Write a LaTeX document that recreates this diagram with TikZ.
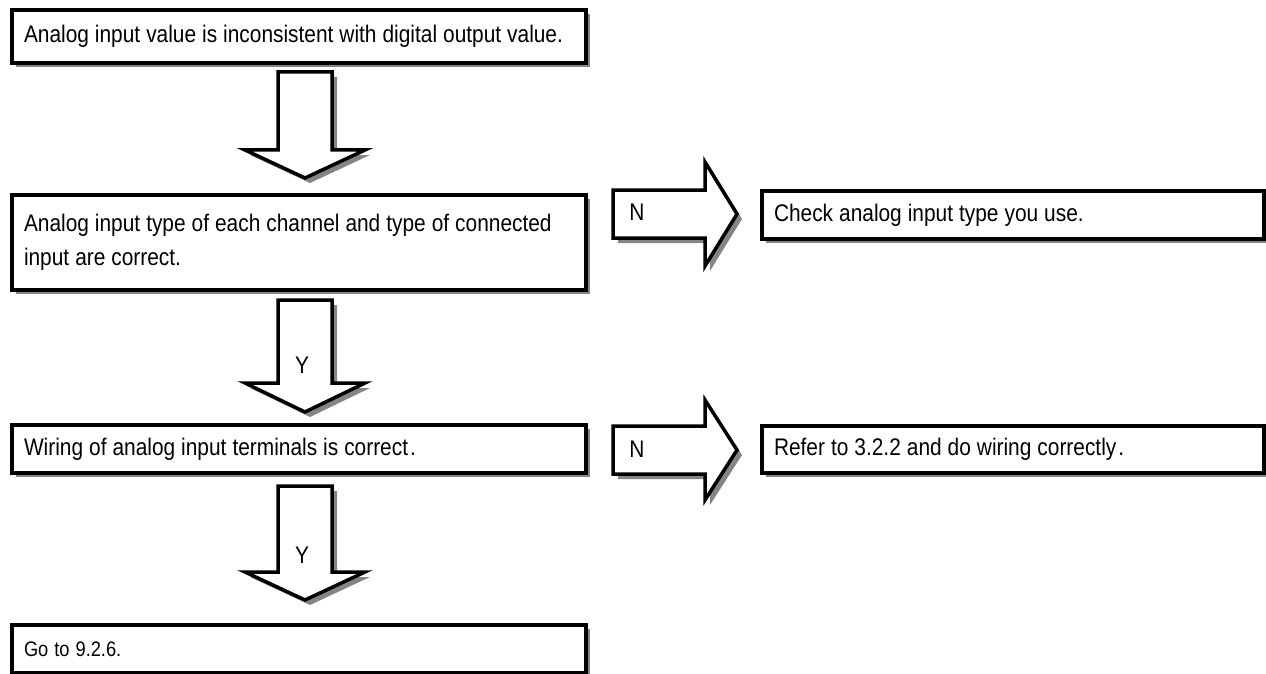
\documentclass[tikz,border=0pt]{standalone}
\usepackage{fontspec}
\setmainfont{Liberation Sans}[FakeStretch=0.87]
\usetikzlibrary{calc}
\definecolor{shadowgray}{HTML}{858585}
\newcommand{\boxfont}{\fontsize{24}{34}\selectfont}
\newcommand{\smallboxfont}{\fontsize{21}{28}\selectfont}
\tikzset{
  box/.style={draw=black, line width=4pt, fill=white, anchor=north west,
    inner xsep=12pt, inner ysep=0pt, align=left, text width=#1,
    font=\boxfont,
    execute at begin node={\spaceskip=6pt plus 1pt minus 1pt\xspaceskip=6pt\hyphenpenalty=10000\relax}},
  boxshadow/.style={fill=shadowgray, draw=none},
  blockarrow/.style={draw=black, line width=3.5pt, fill=white, line join=miter},
  arrowshadow/.style={fill=shadowgray, draw=none},
  lbl/.style={font=\boxfont, inner sep=0pt}
}
% down block arrow: #1 center x, #2 top, #3 wing y, #4 tip y
\newcommand{\dnarrowpath}[4]{(#1-27,#2) -- (#1+27,#2) -- (#1+27,#3) -- (#1+60,#3) -- (#1,#4) -- (#1-60,#3) -- (#1-27,#3) -- cycle}
% right block arrow: #1 left x, #2 center y, #3 half shaft, #4 half head
\newcommand{\rtarrowpath}[4]{(#1,#2-#3) -- (705,#2-#3) -- (705,#2-#4) -- (737,#2) -- (705,#2+#4) -- (705,#2+#3) -- (#1,#2+#3) -- cycle}
\begin{document}
\begin{tikzpicture}[x=1pt,y=-1pt]
\useasboundingbox (0,0) rectangle (1266,674);
% shadows of boxes
\fill[boxshadow] (16,14) rectangle (590,67);
\fill[boxshadow] (16,199) rectangle (590,294);
\fill[boxshadow] (16,429) rectangle (590,477);
\fill[boxshadow] (16,629) rectangle (590,677);
\fill[boxshadow] (766,195) rectangle (1268,243);
\fill[boxshadow] (766,430) rectangle (1268,477);
% boxes
\node[box=550pt, minimum width=574pt, minimum height=53pt] (b1) at (10,8)
  {Analog input value is inconsistent with digital output value.};
\node[box=550pt, minimum width=574pt, minimum height=95pt] (b2) at (10,193)
  {Analog input type of each channel and type of connected\\input are correct.};
\node[box=550pt, minimum width=574pt, minimum height=48pt] (b3) at (10,423)
  {Wiring of analog input terminals is correct\kern2pt.};
\node[box=550pt, minimum width=574pt, minimum height=48pt, font=\smallboxfont] (b4) at (10,623)
  {Go to 9.2.6.};
\node[box=478pt, minimum width=502pt, minimum height=48pt] (r1) at (760,189)
  {Check analog input type you use.};
\node[box=478pt, minimum width=502pt, minimum height=47pt] (r2) at (760,424)
  {Refer to 3.2.2 and do wiring correctly\kern2pt.};
% down arrows
\begin{scope}[shift={(5pt,-5pt)}]
  \fill[arrowshadow] \dnarrowpath{305}{72}{150}{178};
  \fill[arrowshadow] \dnarrowpath{305}{300}{383}{412};
  \fill[arrowshadow] \dnarrowpath{305}{486}{572}{600};
  \fill[arrowshadow] \rtarrowpath{613}{214}{24}{52};
  \fill[arrowshadow] \rtarrowpath{613}{450}{24}{50};
\end{scope}
\draw[blockarrow] \dnarrowpath{305}{72}{150}{178};
\draw[blockarrow] \dnarrowpath{305}{300}{383}{412};
\draw[blockarrow] \dnarrowpath{305}{486}{572}{600};
\draw[blockarrow] \rtarrowpath{613}{214}{24}{52};
\draw[blockarrow] \rtarrowpath{613}{450}{24}{50};
% labels
\node[lbl] (y1) at (302,365) {Y};
\node[lbl] (y2) at (302,555) {Y};
\node[lbl] (n1) at (637,212) {N};
\node[lbl] (n2) at (637,449) {N};
\end{tikzpicture}
\end{document}
